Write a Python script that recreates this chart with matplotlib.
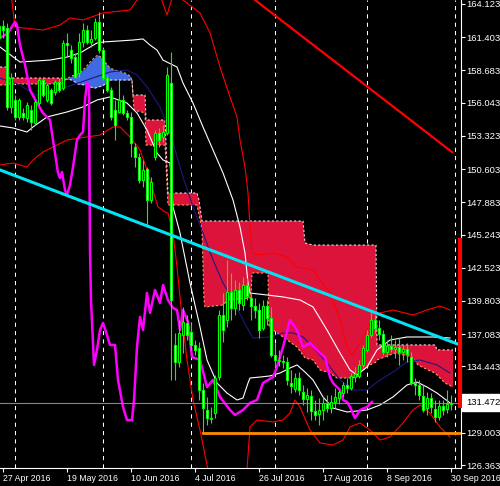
import numpy as np
import matplotlib
matplotlib.use('Agg')
import matplotlib.pyplot as plt
from matplotlib import rcParams

rcParams['font.family'] = 'Liberation Sans'

# Daily bars, bar index 0 = 27 Apr 2016 (index -1 = 26 Apr 2016)
bar_idx = np.arange(-1, 113)
opens = [161.34, 162.32, 162.16, 155.69, 156.26, 154.87, 155.20, 154.79, 155.44, 154.38,
         156.01, 157.90, 156.26, 157.08, 156.92, 157.73, 157.24, 160.93, 160.35, 159.78,
         158.47, 161.01, 161.99, 161.01, 161.34, 162.65, 160.35, 158.06, 157.08, 155.44,
         155.28, 156.26, 155.20, 154.87, 152.41, 151.59, 149.71, 150.61, 148.07, 151.59,
         153.56, 153.23, 153.56, 157.65, 136.20, 134.80, 137.01, 138.00, 137.26, 136.20,
         135.95, 132.51, 130.87, 130.13, 130.62, 133.57, 138.65, 138.24, 140.54, 139.23,
         140.70, 139.47, 141.11, 140.05, 139.39, 139.06, 137.59, 139.39, 138.41, 135.37,
         134.88, 134.88, 134.80, 133.08, 132.59, 133.49, 132.35, 131.77, 132.02, 130.79,
         130.54, 130.87, 131.45, 131.03, 131.53, 131.85, 132.26, 132.92, 132.67, 133.57,
         133.66, 134.56, 135.79, 137.01, 138.24, 137.59, 137.10, 135.62, 136.11, 135.87,
         136.03, 135.62, 135.87, 135.21, 133.08, 132.92, 132.02, 131.03, 131.85, 130.95,
         130.30, 131.20, 130.95, 131.36]
highs = [162.81, 162.81, 162.57, 158.47, 156.67, 156.42, 155.60, 156.10, 155.85, 156.26,
         158.06, 158.14, 157.65, 157.24, 157.90, 158.06, 161.17, 161.75, 160.76, 160.11,
         161.75, 162.57, 162.40, 161.99, 162.98, 163.47, 160.52, 158.31, 157.33, 156.26,
         157.90, 156.67, 155.44, 155.28, 152.74, 151.92, 151.35, 150.77, 149.95, 153.80,
         153.97, 154.21, 158.96, 160.19, 137.18, 138.24, 139.31, 138.65, 138.00, 136.60,
         136.44, 133.08, 131.94, 131.12, 133.74, 139.06, 140.45, 143.16, 142.09, 141.52,
         141.35, 141.76, 141.68, 140.54, 140.05, 139.64, 139.88, 139.88, 139.31, 136.36,
         135.79, 135.37, 135.21, 134.15, 133.90, 133.98, 132.92, 132.67, 132.51, 131.69,
         131.85, 131.94, 132.10, 132.10, 132.67, 132.51, 133.16, 133.49, 133.90, 134.39,
         134.97, 136.20, 137.42, 138.90, 138.65, 138.24, 137.42, 136.60, 137.01, 136.60,
         136.77, 136.20, 136.36, 135.62, 133.49, 133.33, 132.92, 132.35, 132.26, 131.69,
         131.69, 131.69, 132.51, 132.10]
lows = [161.01, 161.34, 155.44, 155.20, 154.62, 154.62, 154.62, 154.46, 153.80, 154.21,
        155.85, 156.51, 156.10, 155.85, 156.67, 156.92, 157.08, 159.78, 159.29, 158.06,
        158.14, 160.60, 160.85, 160.60, 161.17, 160.11, 157.90, 156.92, 154.62, 152.98,
        155.20, 155.03, 154.62, 151.59, 150.77, 149.46, 149.13, 145.86, 147.82, 151.35,
        152.41, 152.82, 153.39, 133.33, 133.33, 134.39, 135.54, 136.60, 135.79, 135.37,
        131.69, 128.99, 129.64, 129.81, 130.21, 133.33, 136.44, 137.67, 138.24, 138.65,
        139.06, 139.06, 139.88, 138.24, 138.41, 136.77, 137.42, 137.83, 135.21, 134.39,
        134.47, 134.31, 132.92, 132.26, 132.35, 132.10, 131.28, 130.71, 130.05, 130.05,
        129.64, 130.05, 130.71, 130.62, 131.03, 131.36, 131.94, 132.26, 132.51, 133.16,
        133.49, 134.39, 135.62, 136.85, 137.18, 136.60, 135.37, 135.21, 135.62, 135.13,
        134.56, 134.97, 134.80, 132.92, 132.10, 131.69, 130.71, 130.46, 130.62, 129.89,
        130.05, 130.46, 130.62, 130.87]
closes = [162.32, 161.99, 155.69, 158.06, 154.87, 156.26, 154.87, 155.85, 154.46, 156.10,
          157.90, 156.67, 157.49, 156.01, 157.73, 157.08, 160.93, 160.76, 159.70, 158.14,
          161.01, 161.99, 161.01, 161.26, 162.65, 160.35, 158.06, 157.08, 154.87, 154.21,
          156.26, 155.20, 154.87, 152.74, 151.59, 149.71, 150.53, 148.07, 149.54, 153.56,
          152.98, 153.64, 158.31, 139.88, 134.80, 137.18, 138.08, 137.01, 136.20, 135.79,
          132.51, 131.03, 130.21, 130.21, 133.49, 138.65, 137.42, 140.54, 139.23, 140.70,
          139.64, 141.11, 140.21, 139.39, 139.06, 137.42, 139.39, 138.41, 135.37, 134.97,
          134.97, 134.80, 133.33, 132.84, 133.49, 132.51, 131.77, 132.10, 130.79, 130.46,
          130.87, 131.45, 131.03, 131.53, 131.94, 132.35, 132.92, 132.67, 133.66, 133.82,
          134.56, 135.95, 137.01, 138.24, 137.59, 137.10, 135.62, 136.11, 135.87, 136.03,
          135.62, 135.87, 135.46, 133.08, 132.92, 132.10, 130.87, 131.85, 131.12, 130.30,
          131.20, 130.87, 131.36, 131.472]

# Indicator lines as (bar index, price) points
red_upper = [(2.0, 165.0), (3.0, 162.24), (10.0, 161.99), (14.25, 162.40), (16.75, 162.98),
             (20.0, 162.81), (25.0, 163.39), (31.75, 163.63), (33.5, 164.45), (36.75, 166.1),
             (39.25, 164.86), (41.0, 163.22), (42.5, 164.86), (45.0, 164.45), (49.25, 163.39),
             (51.75, 161.75), (54.25, 158.96), (56.75, 156.51), (58.5, 154.87), (59.25, 152.98),
             (60.5, 150.77), (61.25, 148.64), (61.75, 145.86), (62.25, 143.73), (64.25, 143.57),
             (67.5, 143.73), (71.0, 143.40), (73.5, 142.58), (77.5, 142.34), (81.75, 140.45),
             (84.25, 138.24), (86.0, 136.03), (87.25, 135.37), (89.75, 136.60), (92.25, 138.41),
             (94.25, 138.82), (97.5, 139.06), (102.5, 138.65), (106.0, 139.06), (109.25, 139.39),
             (111.75, 139.06)]
red_lower = [(-0.75, 150.94), (2.5, 151.10), (6.0, 150.77), (7.5, 151.35), (10.0, 152.00),
             (12.5, 152.41), (16.0, 152.98), (19.25, 153.15), (24.25, 153.39), (27.5, 154.05),
             (29.25, 154.05), (31.75, 153.23), (34.25, 152.17), (36.0, 150.53), (37.25, 149.13),
             (38.75, 147.50), (40.5, 147.09), (41.25, 147.01), (42.5, 145.37), (43.5, 142.58),
             (44.75, 138.49), (46.0, 134.97), (47.5, 131.69), (49.25, 129.23), (51.25, 125.96),
             (53.0, 123.5), (59.25, 123.5), (61.0, 125.96), (61.75, 129.48), (63.5, 130.05),
             (67.5, 129.89), (70.0, 130.05), (71.75, 130.62), (73.0, 131.69), (74.25, 131.12),
             (76.75, 129.23), (79.25, 128.17), (82.5, 128.00), (85.0, 128.41), (86.75, 129.48),
             (89.25, 129.81), (91.75, 129.23), (94.25, 128.41), (96.75, 128.66), (100.0, 129.81),
             (102.5, 130.87), (104.25, 131.28), (106.75, 130.62), (109.25, 129.48), (111.75, 128.66)]
white_upper = [(-0.75, 160.60), (4.25, 159.37), (11.75, 159.53), (16.0, 159.78), (19.25, 160.11),
               (23.5, 160.93), (25.0, 161.01), (32.5, 161.17), (35.0, 161.26), (36.75, 160.76),
               (38.5, 160.35), (40.0, 159.53), (43.5, 158.96), (45.0, 157.65), (47.5, 156.01),
               (50.0, 154.05), (52.5, 152.17), (55.0, 150.28), (57.5, 148.07), (59.25, 145.86),
               (60.5, 143.73), (61.25, 141.27), (61.75, 140.45), (66.0, 140.29), (70.0, 140.13),
               (74.25, 139.88), (77.5, 139.31), (81.0, 137.42), (84.25, 135.54), (86.75, 134.15),
               (88.5, 133.74), (91.0, 134.39), (93.5, 135.79), (96.75, 136.60), (101.0, 136.85),
               (107.5, 136.85), (111.75, 136.77)]
white_lower = [(-0.75, 154.13), (2.5, 153.97), (6.0, 153.64), (7.5, 154.05), (11.0, 154.87),
               (16.0, 155.28), (20.0, 155.69), (23.5, 156.26), (26.75, 156.51), (31.0, 156.01),
               (33.5, 155.20), (36.0, 153.80), (38.5, 151.92), (40.0, 151.35), (41.75, 151.10),
               (42.5, 147.50), (44.25, 145.37), (46.75, 141.27), (49.25, 137.67), (51.0, 134.97),
               (53.5, 133.08), (56.0, 132.26), (58.5, 131.69), (60.0, 131.85), (61.25, 133.08),
               (61.75, 133.49), (64.25, 133.57), (66.75, 133.66), (69.25, 133.90), (71.75, 134.31),
               (73.5, 134.56), (75.5, 133.98), (77.5, 133.33), (80.0, 131.94), (82.5, 131.03),
               (86.0, 130.71), (91.0, 130.87), (94.25, 131.28), (97.5, 131.94), (101.0, 132.92),
               (103.5, 133.16), (106.0, 132.75), (108.5, 132.26), (111.75, 131.45)]
navy_mid = [(-0.75, 158.06), (4.25, 157.49), (8.0, 156.67), (11.75, 156.83), (16.0, 157.33),
            (21.0, 157.90), (26.75, 158.55), (31.0, 158.72), (33.5, 158.31), (36.0, 157.33),
            (39.25, 155.69), (41.75, 153.56), (45.0, 149.95), (47.5, 147.50), (50.0, 145.37),
            (52.5, 143.16), (55.0, 141.27), (57.5, 139.88), (60.0, 138.24), (61.75, 137.18),
            (62.5, 136.77), (66.75, 136.85), (70.0, 137.18), (72.5, 137.18), (75.0, 136.85),
            (77.5, 136.03), (81.0, 134.72), (84.25, 133.33), (87.5, 132.51), (91.0, 132.51),
            (94.25, 133.33), (97.5, 133.98), (101.0, 134.80), (104.25, 134.97), (108.5, 134.56),
            (111.75, 133.90)]
chikou = [(-0.75, 161.34), (1.25, 161.75), (2.5, 162.40), (3.0, 162.65), (3.5, 162.40),
          (4.25, 160.76), (5.5, 159.13), (6.75, 157.08), (8.5, 156.01), (10.0, 155.20),
          (11.75, 154.62), (12.5, 152.98), (13.75, 150.28), (14.25, 149.87), (14.75, 150.36),
          (15.5, 148.89), (16.0, 148.48), (16.75, 149.30), (17.5, 150.77), (18.5, 152.98),
          (19.25, 153.39), (20.0, 153.64), (20.5, 156.26), (21.0, 157.65), (21.5, 157.49),
          (21.75, 143.98), (22.0, 139.88), (22.75, 134.56), (23.5, 135.79), (24.25, 137.42),
          (25.0, 138.00), (26.0, 137.01), (26.75, 136.20), (28.0, 136.20), (28.75, 133.33),
          (30.0, 131.12), (31.0, 130.05), (32.25, 130.05), (32.75, 131.69), (33.5, 136.03),
          (34.25, 138.49), (35.0, 137.42), (36.0, 140.45), (36.75, 138.82), (38.0, 140.70),
          (39.25, 139.64), (40.0, 141.11), (41.25, 139.88), (42.5, 139.23), (43.5, 139.06),
          (44.25, 137.42), (45.0, 139.06), (46.25, 138.08), (47.25, 135.21), (49.25, 134.97),
          (51.0, 132.75), (52.5, 133.33), (54.25, 131.94), (56.75, 130.87), (58.0, 130.46),
          (60.0, 130.87), (61.75, 131.45), (63.5, 131.69), (65.0, 133.08), (67.5, 133.57),
          (68.5, 134.39), (70.0, 136.03), (71.75, 138.24), (73.5, 137.42), (75.0, 136.03),
          (76.75, 136.36), (79.25, 135.54), (80.5, 135.21), (81.75, 133.57), (82.5, 133.08),
          (84.25, 132.51), (85.0, 131.69), (86.0, 131.53), (86.75, 131.12), (88.0, 130.21),
          (89.25, 130.87), (91.0, 131.12), (92.25, 131.53)]

# Cloud: (bar index, span A, span B)
cloud = [(-0.75, 157.49, 158.96), (1.25, 157.49, 158.96), (1.5, 157.57, 158.06),
         (14.75, 157.57, 158.06), (15.75, 157.98, 157.98), (17.25, 158.23, 157.90),
         (18.75, 158.39, 157.57), (20.5, 158.88, 157.49), (21.75, 159.37, 157.33),
         (23.0, 159.78, 157.24), (23.75, 159.95, 157.33), (24.75, 159.70, 157.41),
         (25.5, 159.37, 157.57), (26.75, 158.88, 157.90), (28.0, 158.72, 157.90),
         (30.5, 158.47, 157.90), (31.75, 158.23, 157.90), (32.25, 157.90, 157.90),
         (32.5, 156.51, 156.67), (32.75, 155.44, 156.67), (35.5, 155.20, 156.67),
         (35.75, 152.57, 154.62), (40.5, 152.57, 154.62), (41.25, 147.66, 148.64),
         (48.5, 147.66, 148.64), (49.0, 146.84, 148.07), (49.75, 145.61, 146.35),
         (50.25, 139.88, 146.35), (50.5, 139.31, 146.35), (55.0, 139.47, 146.35),
         (56.25, 139.88, 146.35), (62.0, 140.05, 146.35), (62.25, 142.09, 146.35),
         (66.25, 142.09, 146.35), (66.5, 137.67, 146.35), (70.0, 136.85, 146.35),
         (73.5, 136.03, 146.35), (75.0, 135.37, 146.35), (75.5, 135.13, 144.55),
         (77.5, 134.97, 144.38), (79.25, 134.15, 144.38), (81.75, 133.90, 144.38),
         (83.5, 133.49, 144.38), (86.75, 133.49, 144.38), (88.5, 133.57, 144.38),
         (90.0, 134.15, 144.38), (91.75, 134.56, 144.38), (93.25, 134.80, 144.38),
         (93.5, 134.97, 136.20), (98.0, 135.54, 136.20), (102.25, 135.21, 136.20),
         (103.75, 134.56, 136.20), (106.25, 134.15, 136.20), (108.0, 133.90, 136.20),
         (108.5, 133.74, 135.79), (110.5, 133.08, 135.79), (112.5, 132.75, 135.79)]

# Trend lines and levels
cyan_trend = [(-0.75, 150.53), (114.25, 136.20)]
red_trend = [(63.0, 164.45), (112.25, 152.0)]
support_start, support_level = 50, 128.99
last_price = 131.472
right_bar_low, right_bar_high = 131.03, 144.96
month_starts = [3, 25, 47, 68, 91, 113]

date_pos = [0, 16, 32, 48, 64, 80, 96, 112]
date_labels = ['27 Apr 2016', '19 May 2016', '10 Jun 2016', '4 Jul 2016',
               '26 Jul 2016', '17 Aug 2016', '8 Sep 2016', '30 Sep 2016']
price_ticks = [164.123, 161.403, 158.683, 156.043, 153.323, 150.603, 147.883,
               145.243, 142.523, 139.803, 137.083, 134.443, 129.003, 126.363]

fig = plt.figure(figsize=(5, 4.86), dpi=100, facecolor='black')
ax = fig.add_axes([0, 18 / 486, 461 / 500, 468 / 486])
ax.set_facecolor('black')
ax.set_xlim(-0.75, 114.5)
ax.set_ylim(126.12, 164.45)

# Month separators
for m in month_starts:
    ax.axvline(m, color='white', lw=0.75, ls=(0, (4, 4)), zorder=0.5)

# Cloud
cx = np.array([c[0] for c in cloud])
ca = np.array([c[1] for c in cloud])
cb = np.array([c[2] for c in cloud])
ax.fill_between(cx, ca, cb, where=cb >= ca, color='#DC143C', interpolate=True, lw=0, zorder=1)
ax.fill_between(cx, ca, cb, where=ca >= cb, color='#4169E1', interpolate=True, lw=0, zorder=1)
ax.plot(cx, ca, color='#F4A460', lw=0.8, ls=(0, (2, 2)), zorder=1.2)
ax.plot(cx, cb, color='#F0D8E0', lw=0.8, ls=(0, (2, 2)), zorder=1.2)


def draw_line(pts, **kw):
    xs, ys = zip(*pts)
    ax.plot(xs, ys, **kw)


draw_line(red_upper, color='red', lw=0.8, zorder=2)
draw_line(red_lower, color='red', lw=0.8, zorder=2)
draw_line(white_upper, color='white', lw=0.8, zorder=2)
draw_line(white_lower, color='white', lw=0.8, zorder=2)
draw_line(navy_mid, color='#1a1a80', lw=0.8, zorder=2)
draw_line(chikou, color='#FF00FF', lw=1.8, zorder=3)

# Current price and support level
ax.axhline(last_price, color='#778899', lw=0.8, zorder=3)
ax.plot([support_start, 114.5], [support_level, support_level], color='#FF8C00', lw=2.0, zorder=5)

# Candles
opens = np.array(opens)
closes = np.array(closes)
ax.vlines(bar_idx, lows, highs, color='#00FF00', lw=0.8, zorder=4)
body_fill = np.where(closes >= opens, 'black', 'white')
ax.bar(bar_idx, np.abs(closes - opens), bottom=np.minimum(opens, closes), width=0.55,
       color=body_fill, edgecolor='#00FF00', linewidth=0.8, zorder=4.5)

# Trend lines
draw_line(cyan_trend, color='#00E5F5', lw=2.2, zorder=5)
draw_line(red_trend, color='red', lw=1.6, zorder=5)

# Red bar at right edge
ax.bar([114.25], [right_bar_high - right_bar_low], bottom=right_bar_low, width=1.0,
       color='red', lw=0, zorder=6, clip_on=False)

# Axes styling
for side in ['top', 'left']:
    ax.spines[side].set_visible(False)
for side in ['bottom', 'right']:
    ax.spines[side].set_color('white')
    ax.spines[side].set_linewidth(0.8)

ax.yaxis.tick_right()
ax.set_yticks(price_ticks)
ax.set_yticklabels(['%.3f' % p for p in price_ticks])
ax.tick_params(axis='y', colors='white', length=3, width=0.8, pad=1, labelsize=6.8)

ax.set_xticks(date_pos)
ax.set_xticklabels(date_labels, ha='left')
ax.tick_params(axis='x', colors='white', length=3, width=0.8, pad=1, labelsize=6.3)

ax.annotate('%.3f' % last_price, xy=(1, last_price), xycoords=('axes fraction', 'data'),
            xytext=(5, 0), textcoords='offset pixels', ha='left', va='center',
            color='black', fontsize=6.8, annotation_clip=False,
            bbox=dict(boxstyle='square,pad=0.4', fc='white', ec='white'))

fig.savefig('out.png', dpi=100, facecolor='black')
